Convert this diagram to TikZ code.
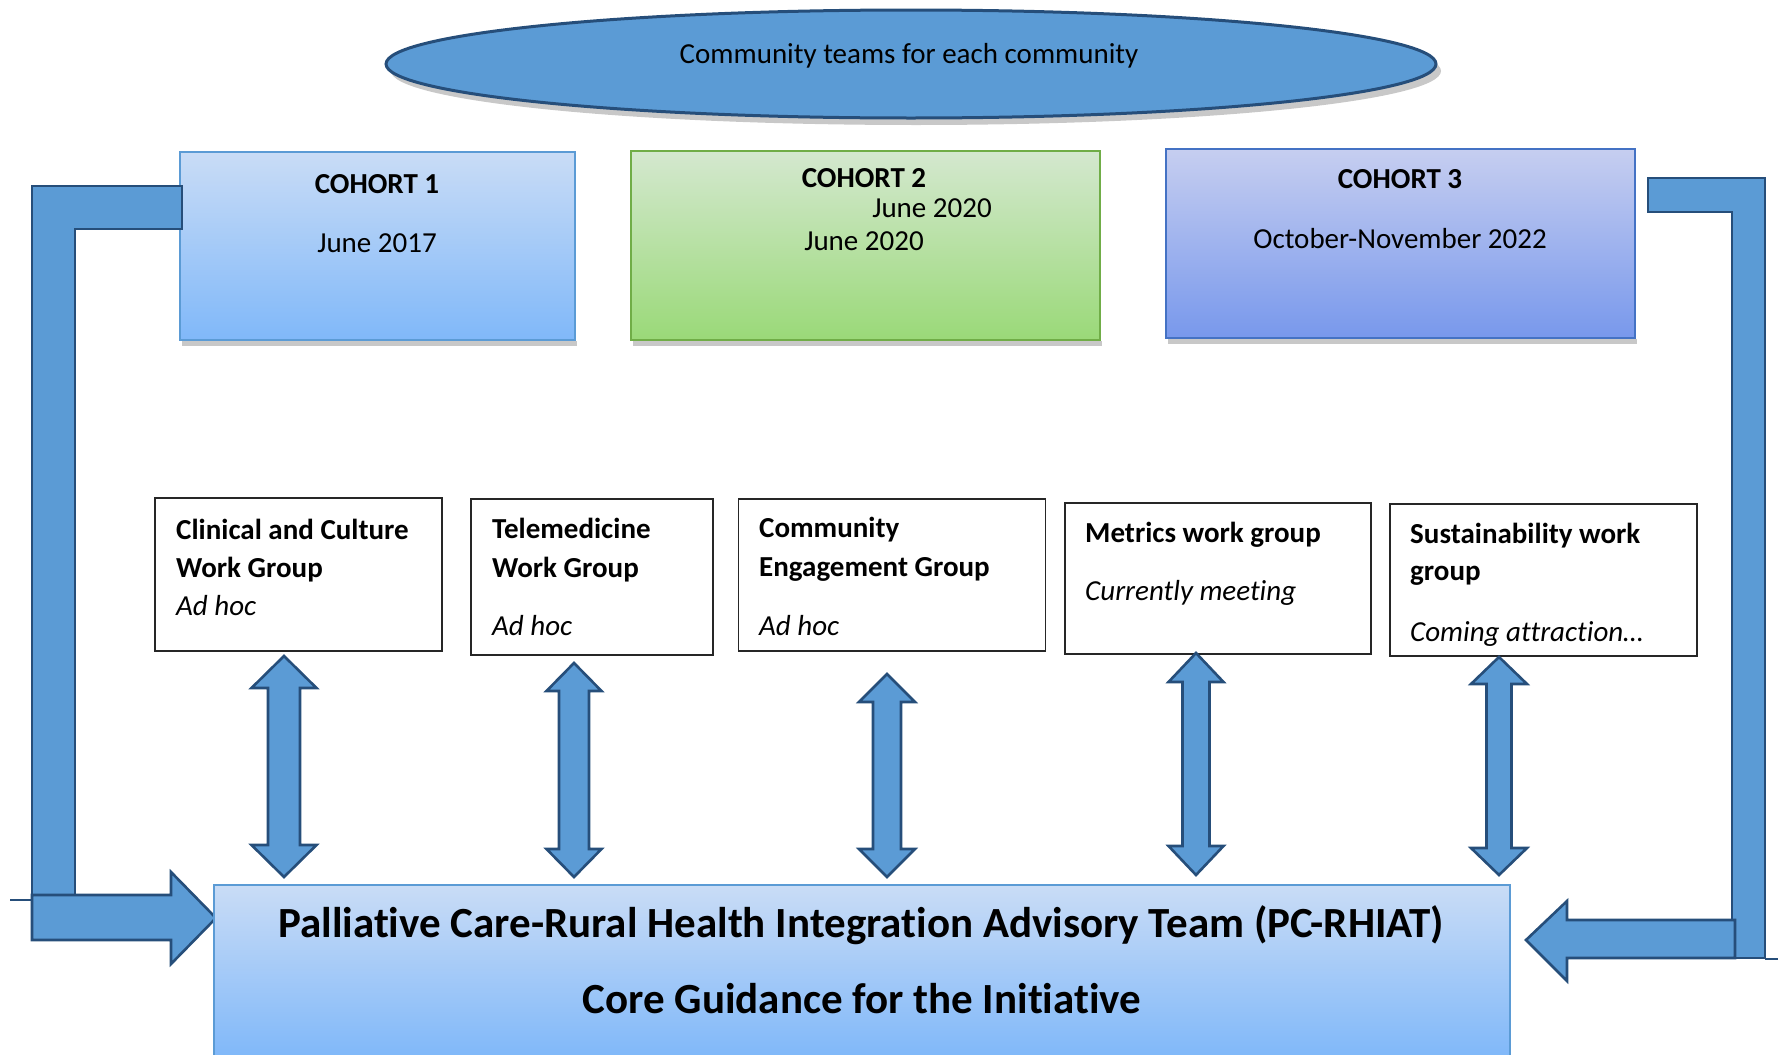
\documentclass[tikz,border=0pt]{standalone}
\usepackage{fontspec}
\setmainfont{Carlito}[Ligatures=NoCommon]
\usetikzlibrary{shapes.geometric}
\definecolor{obl}{HTML}{5B9BD5}
\definecolor{dkb}{HTML}{264E7A}
\definecolor{shd}{HTML}{C8C8C8}
\definecolor{coaT}{HTML}{C9DCF6}
\definecolor{coaB}{HTML}{80B8F9}
\definecolor{cobT}{HTML}{D4E8CF}
\definecolor{cobB}{HTML}{9AD978}
\definecolor{cobD}{HTML}{70AD47}
\definecolor{cocT}{HTML}{C6CEF0}
\definecolor{cocB}{HTML}{7898EC}
\definecolor{cocD}{HTML}{4472C4}
\newcommand{\vdarrow}[6]{%
  \draw[blockarrow] (#1,#2) -- ({#1+#5},{#2+#6}) -- ({#1+#4},{#2+#6}) -- ({#1+#4},{#3-#6}) -- ({#1+#5},{#3-#6}) -- (#1,#3) -- ({#1-#5},{#3-#6}) -- ({#1-#4},{#3-#6}) -- ({#1-#4},{#2+#6}) -- ({#1-#5},{#2+#6}) -- cycle;}
\begin{document}
\begin{tikzpicture}[x=1pt,y=-1pt,
  blockarrow/.style={fill=obl,draw=dkb,line width=2.6pt,line join=miter},
  cohortbox/.style={rectangle,inner sep=0pt,outer sep=0pt,line width=2pt},
  wgbox/.style={rectangle,draw=black!85,fill=white,line width=1.4pt,inner sep=0pt,outer sep=0pt},
  txt/.style={inner sep=0pt,anchor=base,font=\fontsize{29}{34}\selectfont},
  wgtitle/.style={inner sep=0pt,anchor=base west,font=\fontsize{29}{34}\selectfont\bfseries},
  wgnote/.style={inner sep=0pt,anchor=base west,font=\fontsize{29}{34}\selectfont\itshape},
  maintxt/.style={inner sep=0pt,anchor=base,font=\fontsize{43}{50}\selectfont\bfseries}]
\useasboundingbox (0,0) rectangle (1778,1055);

% ellipse
\fill[shd] (916,71) ellipse [x radius=525, y radius=54];
\node[ellipse,fill=obl,draw=dkb,line width=3pt,minimum width=1050pt,minimum height=108pt,inner sep=0pt] (ell) at (911,64) {};
\node[txt] (ellt) at (909,63) {Community teams for each community};

% cohort boxes
\fill[shd] (182,341) rectangle (577,346);
\node[cohortbox,draw=obl,top color=coaT,bottom color=coaB,minimum width=395pt,minimum height=188pt] (c1) at (377.5,246) {};
\fill[shd] (633,341) rectangle (1102,346);
\node[cohortbox,draw=cobD,top color=cobT,bottom color=cobB,minimum width=469pt,minimum height=189pt] (c2) at (865.5,245.5) {};
\fill[shd] (1168,339) rectangle (1637,344);
\node[cohortbox,draw=cocD,top color=cocT,bottom color=cocB,minimum width=469pt,minimum height=189pt] (c3) at (1400.5,243.5) {};

\node[txt,font=\fontsize{29}{34}\selectfont\bfseries] (c1a) at (377,193) {COHORT 1};
\node[txt] (c1b) at (377,252) {June 2017};
\node[txt,font=\fontsize{29}{34}\selectfont\bfseries] (c2a) at (864,187) {COHORT 2};
\node[txt] (c2b) at (932,217) {June 2020};
\node[txt] (c2c) at (864,250) {June 2020};
\node[txt,font=\fontsize{29}{34}\selectfont\bfseries] (c3a) at (1400,188) {COHORT 3};
\node[txt] (c3b) at (1400,248) {October-November 2022};

% left L connector and arrow
\draw[blockarrow] (32,186) -- (182,186) -- (182,229) -- (75,229) -- (75,897) -- (32,897) -- cycle;
\draw[dkb,line width=2.6pt] (10,900) -- (32,900);
\draw[blockarrow] (32,895) -- (171,895) -- (171,872) -- (216,918) -- (171,964) -- (171,940) -- (32,940) -- cycle;

% right L connector and arrow
\draw[blockarrow] (1648,178) -- (1765,178) -- (1765,958) -- (1732,958) -- (1732,212) -- (1648,212) -- cycle;
\draw[dkb,line width=2.6pt] (1765,959) -- (1778,959);
\draw[blockarrow] (1735,920) -- (1567,920) -- (1567,901) -- (1526,940) -- (1567,981) -- (1567,958) -- (1735,958) -- cycle;

% main box
\node[cohortbox,draw=obl,top color=coaT,bottom color=coaB,minimum width=1296pt,minimum height=172pt,anchor=north west] (main) at (214,885) {};
\node[maintxt] (m1) at (861,937) {Palliative Care-Rural Health Integration Advisory Team (PC-RHIAT)};
\node[maintxt] (m2) at (862,1013) {Core Guidance for the Initiative};

% work group boxes
\node[wgbox,minimum width=287pt,minimum height=153pt] (w1) at (298.5,574.5) {};
\node[wgtitle] (w1a) at (176,539) {Clinical and Culture};
\node[wgtitle] (w1b) at (176,577) {Work Group};
\node[wgnote] (w1c) at (176,615) {Ad hoc};

\node[wgbox,minimum width=242pt,minimum height=156pt] (w2) at (592,577) {};
\node[wgtitle] (w2a) at (492,538) {Telemedicine};
\node[wgtitle] (w2b) at (492,577) {Work Group};
\node[wgnote] (w2c) at (492,635) {Ad hoc};

\node[wgbox,minimum width=307pt,minimum height=152pt] (w3) at (892,575) {};
\node[wgtitle] (w3a) at (759,537) {Community};
\node[wgtitle] (w3b) at (759,576) {Engagement Group};
\node[wgnote] (w3c) at (759,635) {Ad hoc};

\node[wgbox,minimum width=306pt,minimum height=151pt] (w4) at (1218,578.5) {};
\node[wgtitle] (w4a) at (1085,542) {Metrics work group};
\node[wgnote] (w4b) at (1085,600) {Currently meeting};

\node[wgbox,minimum width=307pt,minimum height=152pt] (w5) at (1543.5,580) {};
\node[wgtitle] (w5a) at (1410,543) {Sustainability work};
\node[wgtitle] (w5b) at (1410,580) {group};
\node[wgnote] (w5c) at (1410,641) {Coming attraction\dots};

% double arrows
\vdarrow{284}{656}{877}{16}{32.5}{32}
\vdarrow{574}{663}{877}{15}{27.5}{28}
\vdarrow{887}{674}{877}{14}{28}{28}
\vdarrow{1196}{653}{875}{13.5}{27.5}{29}
\vdarrow{1499}{657}{875}{12.5}{28}{27}
\end{tikzpicture}
\end{document}
